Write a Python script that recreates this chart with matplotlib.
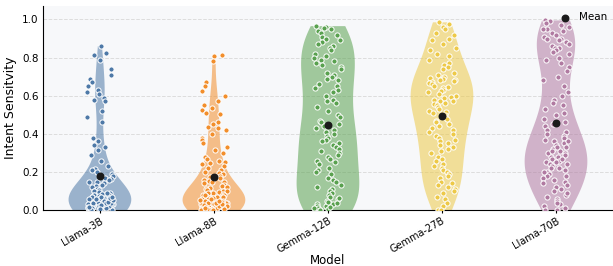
import numpy as np
import matplotlib
matplotlib.use('agg')
import matplotlib.pyplot as plt

models = ["Llama-3B", "Llama-8B", "Gemma-12B", "Gemma-27B", "Llama-70B"]
dot_colors = ["#4e79a7", "#f28e2b", "#59a14f", "#edc948", "#b07aa1"]

llama3b = [0.86, 0.825, 0.815, 0.79, 0.74, 0.71, 0.69, 0.67, 0.65, 0.63, 0.62, 0.61, 0.59, 0.58,
           0.57, 0.52, 0.49, 0.46, 0.38, 0.36, 0.34, 0.33, 0.315, 0.29, 0.26, 0.23, 0.215, 0.21,
           0.20, 0.19, 0.18, 0.17, 0.165, 0.16, 0.15, 0.15, 0.14, 0.13, 0.125, 0.12, 0.11, 0.105,
           0.10, 0.10, 0.095, 0.09, 0.085, 0.08, 0.08, 0.075, 0.07, 0.07, 0.065, 0.06, 0.06, 0.055,
           0.055, 0.05, 0.05, 0.045, 0.045, 0.04, 0.04, 0.04, 0.035, 0.035, 0.03, 0.03, 0.03, 0.025,
           0.025, 0.02, 0.02, 0.02, 0.015, 0.015, 0.01, 0.01, 0.01, 0.005, 0.005, 0.0, 0.0, 0.0,
           0.06, 0.07, 0.05, 0.04, 0.03, 0.02, 0.01, 0.0, 0.08, 0.09, 0.03, 0.04, 0.05, 0.06, 0.02,
           0.01, 0.0, 0.035, 0.045, 0.055, 0.065, 0.025, 0.015, 0.005, 0.07]
llama8b = [0.816, 0.81, 0.78, 0.67, 0.65, 0.626, 0.60, 0.57, 0.55, 0.535, 0.526, 0.51, 0.505,
           0.46, 0.45, 0.435, 0.43, 0.42, 0.40, 0.38, 0.37, 0.35, 0.33, 0.315, 0.30, 0.28, 0.27,
           0.26, 0.25, 0.247, 0.24, 0.23, 0.22, 0.21,
           0.20, 0.195, 0.19, 0.18, 0.175, 0.17, 0.16, 0.155, 0.15, 0.145, 0.14, 0.13, 0.125, 0.12,
           0.115, 0.11, 0.105, 0.10, 0.10, 0.095, 0.09, 0.09, 0.085, 0.08, 0.08, 0.075, 0.07, 0.07,
           0.065, 0.06, 0.06, 0.055, 0.055, 0.05, 0.05, 0.045, 0.045, 0.04, 0.04, 0.04, 0.035,
           0.035, 0.03, 0.03, 0.03, 0.025, 0.025, 0.02, 0.02, 0.02, 0.015, 0.015, 0.01, 0.01, 0.01,
           0.005, 0.005, 0.0, 0.0, 0.0, 0.06, 0.05, 0.04, 0.03, 0.02, 0.01, 0.0, 0.07, 0.08, 0.035,
           0.045, 0.025, 0.015, 0.005, 0.065, 0.055, 0.0, 0.0, 0.01, 0.02, 0.03, 0.04, 0.05, 0.06]
gemma12b = [0.965, 0.96, 0.955, 0.95, 0.94, 0.93, 0.92, 0.91, 0.90, 0.89, 0.88, 0.87, 0.86, 0.85,
            0.84, 0.82, 0.81, 0.80, 0.79, 0.78, 0.77, 0.76, 0.75, 0.74, 0.72, 0.71, 0.70, 0.69,
            0.68, 0.66, 0.65, 0.64, 0.63, 0.62, 0.60, 0.58, 0.57, 0.56, 0.54, 0.52, 0.50, 0.49,
            0.47, 0.46, 0.45, 0.44, 0.43, 0.42, 0.41, 0.40, 0.39, 0.38, 0.37, 0.36, 0.35, 0.34,
            0.33, 0.32, 0.31, 0.30, 0.29, 0.28, 0.27, 0.26, 0.25, 0.24, 0.22, 0.21, 0.20, 0.19,
            0.17, 0.16, 0.15, 0.13, 0.12, 0.11, 0.10, 0.09, 0.08, 0.07, 0.06, 0.05, 0.04, 0.03,
            0.03, 0.02, 0.02, 0.01, 0.01, 0.0, 0.0, 0.005, 0.015, 0.035, 0.045, 0.065]
gemma27b = [0.985, 0.975, 0.96, 0.95, 0.93, 0.92, 0.90,
            0.89, 0.87, 0.85, 0.84, 0.82, 0.81,
            0.79, 0.77, 0.76, 0.75, 0.74, 0.72, 0.71, 0.70,
            0.695, 0.69, 0.685, 0.68, 0.675, 0.67, 0.665, 0.66, 0.65, 0.645, 0.64, 0.63, 0.625,
            0.62, 0.61, 0.60,
            0.595, 0.59, 0.58, 0.575, 0.57, 0.56, 0.555, 0.55, 0.54, 0.53, 0.52, 0.515, 0.51, 0.50,
            0.49, 0.48, 0.47, 0.46, 0.45, 0.44, 0.43, 0.42, 0.41, 0.40,
            0.39, 0.38, 0.37, 0.36, 0.35, 0.34, 0.33, 0.32, 0.31, 0.30,
            0.28, 0.27, 0.26, 0.24, 0.23, 0.22, 0.21, 0.20,
            0.19, 0.18, 0.17, 0.15, 0.14, 0.13, 0.12, 0.11, 0.10,
            0.09, 0.07, 0.06, 0.04, 0.02, 0.0, 0.0]
llama70b = [0.995, 0.99, 0.98, 0.97, 0.96, 0.95, 0.95, 0.94, 0.93, 0.92, 0.91, 0.90, 0.90, 0.89,
            0.88, 0.87, 0.86, 0.85, 0.85, 0.84, 0.83, 0.82, 0.80, 0.79, 0.77, 0.75, 0.73, 0.70,
            0.68, 0.65, 0.62, 0.60, 0.58, 0.56, 0.55, 0.53, 0.51, 0.50, 0.48, 0.46, 0.45, 0.44,
            0.42, 0.41, 0.40, 0.39, 0.38, 0.37, 0.36, 0.35, 0.34, 0.33, 0.32, 0.31, 0.30, 0.30,
            0.29, 0.28, 0.28, 0.27, 0.26, 0.25, 0.25, 0.24, 0.23, 0.22, 0.21, 0.20, 0.19, 0.18,
            0.17, 0.16, 0.15, 0.13, 0.12, 0.10, 0.08, 0.06, 0.05, 0.03, 0.02, 0.01, 0.0, 0.0,
            0.36, 0.33, 0.31, 0.27, 0.24, 0.22, 0.20, 0.18, 0.14, 0.11, 0.09, 0.07, 0.04]

series = [llama3b, llama8b, gemma12b, gemma27b, llama70b]

fig, ax = plt.subplots(figsize=(6.13, 2.66), dpi=100)
fig.subplots_adjust(left=0.07, right=1.0, top=0.977, bottom=0.21)
ax.set_facecolor("#f7f8fa")

positions = np.arange(len(models))
parts = ax.violinplot(series, positions=positions, widths=0.55,
                      showextrema=False, showmeans=False, showmedians=False)
for body, c in zip(parts['bodies'], dot_colors):
    body.set_facecolor(c)
    body.set_edgecolor('none')
    body.set_alpha(0.55)

np.random.seed(3)
for i, vals in enumerate(series):
    xs = i + np.random.uniform(-0.12, 0.12, len(vals))
    ax.scatter(xs, vals, s=14, color=dot_colors[i], edgecolors='white', linewidths=0.7, zorder=3)

means = [np.mean(v) for v in series]
ax.scatter(positions, means, s=22, color='#1a1a1a', zorder=4, label='Mean')

ax.set_xlim(-0.5, len(models) - 0.5)
ax.set_ylim(0, 1.07)
ax.set_yticks([0.0, 0.2, 0.4, 0.6, 0.8, 1.0])
ax.set_xticks(positions)
ax.set_xticklabels(models, rotation=30, ha='right', rotation_mode='anchor', fontsize=7)
ax.tick_params(axis='y', labelsize=7.5, length=0, pad=3)
ax.tick_params(axis='x', length=2, pad=2)
ax.yaxis.grid(True, linestyle='--', color='#dddddd', linewidth=0.7)
ax.set_axisbelow(True)
ax.spines['top'].set_visible(False)
ax.spines['right'].set_visible(False)
ax.set_ylabel("Intent Sensitvity", fontsize=9)
ax.set_xlabel("Model", fontsize=8.5)
ax.xaxis.set_label_coords(0.5, -0.215)
ax.legend(loc='upper right', frameon=False, fontsize=7.5, handletextpad=0.3,
          borderaxespad=0.2)

plt.savefig("out.png")
